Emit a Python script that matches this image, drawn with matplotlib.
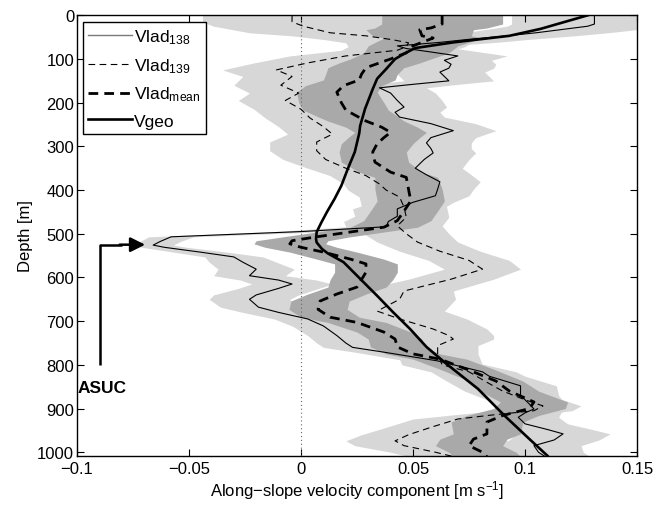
import matplotlib
matplotlib.use("Agg")
import matplotlib.pyplot as plt
from matplotlib.lines import Line2D
import numpy as np

plt.rcParams["font.family"] = ["Liberation Sans", "DejaVu Sans"]
plt.rcParams["mathtext.fontset"] = "custom"
plt.rcParams["mathtext.rm"] = "Liberation Sans"
plt.rcParams["mathtext.it"] = "Liberation Sans:italic"
plt.rcParams["mathtext.bf"] = "Liberation Sans:bold"

# --- LADCP profile at station 138 (depth [m], velocity [m/s], uncertainty) ---
d138 = [0, 20, 25, 40, 47, 55, 62, 70, 76, 84, 93, 103, 112, 121, 130, 140, 150, 158, 166, 178,
        195, 210, 222, 233, 248, 264, 280, 292, 305, 315, 330, 350, 365, 381, 398, 413, 428, 443, 460, 472,
        484, 495, 507, 518, 526, 531, 542, 553, 565, 581, 596, 606, 615, 625, 640, 650, 668, 680, 695, 711,
        733, 750, 760, 771, 791, 816, 826, 848, 870, 890, 901, 910, 920, 935, 948, 958, 972, 985, 1000, 1010]
v138 = [0.131, 0.131, 0.128, 0.105, 0.092, 0.075, 0.062, 0.043, 0.047, 0.058, 0.070, 0.064, 0.067, 0.066, 0.062, 0.064, 0.066, 0.050, 0.035, 0.040,
        0.043, 0.046, 0.042, 0.044, 0.058, 0.068, 0.058, 0.056, 0.058, 0.059, 0.055, 0.051, 0.056, 0.062, 0.061, 0.060, 0.050, 0.043, 0.043, 0.039,
        0.038, 0.000, -0.058, -0.063, -0.066, -0.061, -0.045, -0.030, -0.026, -0.020, -0.023, -0.010, -0.004, -0.010, -0.020, -0.023, -0.019, -0.010, 0.003, 0.010,
        0.016, 0.020, 0.023, 0.037, 0.061, 0.081, 0.084, 0.098, 0.098, 0.102, 0.104, 0.100, 0.097, 0.100, 0.110, 0.117, 0.113, 0.104, 0.106, 0.109]
e138 = [0.037, 0.037, 0.036, 0.032, 0.030, 0.027, 0.025, 0.022, 0.022, 0.022, 0.022, 0.021, 0.020, 0.020, 0.020, 0.020, 0.020, 0.020, 0.021, 0.020,
        0.020, 0.019, 0.020, 0.020, 0.020, 0.019, 0.020, 0.020, 0.018, 0.019, 0.020, 0.021, 0.020, 0.018, 0.016, 0.015, 0.018, 0.020, 0.019, 0.020,
        0.018, 0.012, 0.010, 0.009, 0.009, 0.010, 0.012, 0.013, 0.015, 0.017, 0.016, 0.017, 0.018, 0.018, 0.019, 0.018, 0.017, 0.016, 0.015, 0.014,
        0.013, 0.013, 0.013, 0.013, 0.014, 0.015, 0.016, 0.016, 0.017, 0.016, 0.015, 0.016, 0.018, 0.019, 0.020, 0.021, 0.020, 0.021, 0.020, 0.020]

# --- LADCP profile at station 139 ---
d139 = [0, 15, 25, 40, 47, 56, 63, 72, 80, 93, 109, 125, 140, 160, 178, 195, 215, 235, 255, 272,
        290, 310, 330, 350, 367, 386, 400, 416, 439, 462, 482, 500, 519, 540, 561, 581, 604, 631, 650, 677,
        695, 718, 733, 741, 756, 775, 800, 816, 840, 860, 880, 894, 905, 915, 924, 943, 960, 974, 985, 1000, 1010]
v139 = [-0.004, -0.004, 0.001, 0.013, 0.029, 0.041, 0.048, 0.047, 0.043, 0.020, 0.003, -0.011, -0.004, -0.009, -0.001, -0.007, 0.000, 0.004, 0.010, 0.014,
        0.007, 0.007, 0.011, 0.020, 0.029, 0.035, 0.038, 0.044, 0.046, 0.047, 0.043, 0.047, 0.052, 0.062, 0.075, 0.081, 0.067, 0.046, 0.044, 0.034,
        0.044, 0.059, 0.066, 0.068, 0.061, 0.061, 0.063, 0.075, 0.083, 0.090, 0.100, 0.108, 0.104, 0.085, 0.070, 0.058, 0.048, 0.042, 0.046, 0.060, 0.068]
e139 = [0.040, 0.040, 0.040, 0.036, 0.033, 0.030, 0.028, 0.026, 0.025, 0.025, 0.024, 0.024, 0.022, 0.021, 0.022, 0.021, 0.021, 0.020, 0.020, 0.020,
        0.021, 0.021, 0.019, 0.017, 0.016, 0.016, 0.017, 0.018, 0.019, 0.019, 0.020, 0.019, 0.018, 0.018, 0.018, 0.017, 0.019, 0.022, 0.025, 0.030,
        0.030, 0.024, 0.020, 0.018, 0.018, 0.018, 0.018, 0.017, 0.017, 0.017, 0.017, 0.017, 0.017, 0.018, 0.020, 0.020, 0.021, 0.022, 0.022, 0.020, 0.020]

# --- mean of the two LADCP profiles ---
dmean = [0, 20, 29, 33, 47, 52, 70, 86, 100, 109, 120, 135, 148, 161, 176, 200, 217, 231, 242, 256,
         268, 280, 294, 313, 336, 359, 371, 398, 425, 448, 470, 485, 496, 507, 516, 523, 531, 542, 558, 569,
         588, 605, 622, 638, 654, 673, 691, 703, 725, 741, 759, 775, 787, 810, 837, 860, 885, 900, 916, 931,
         958, 970, 985, 1000, 1010]
vmean = [0.063, 0.063, 0.058, 0.053, 0.054, 0.059, 0.050, 0.047, 0.040, 0.035, 0.029, 0.027, 0.026, 0.019, 0.016, 0.018, 0.020, 0.025, 0.029, 0.036,
         0.040, 0.037, 0.034, 0.032, 0.033, 0.040, 0.047, 0.048, 0.049, 0.046, 0.043, 0.037, 0.022, 0.007, -0.004, -0.005, 0.000, 0.010, 0.022, 0.029,
         0.029, 0.027, 0.025, 0.016, 0.0085, 0.0076, 0.013, 0.025, 0.037, 0.042, 0.043, 0.050, 0.062, 0.074, 0.087, 0.093, 0.104, 0.102, 0.090, 0.083,
         0.083, 0.077, 0.075, 0.081, 0.083]
emean = [0.027, 0.027, 0.025, 0.024, 0.022, 0.022, 0.020, 0.019, 0.018, 0.018, 0.017, 0.016, 0.016, 0.017, 0.018, 0.019, 0.019, 0.018, 0.017, 0.016,
         0.016, 0.016, 0.016, 0.015, 0.015, 0.014, 0.014, 0.015, 0.015, 0.015, 0.015, 0.015, 0.015, 0.015, 0.016, 0.016, 0.016, 0.015, 0.015, 0.014,
         0.014, 0.014, 0.013, 0.013, 0.013, 0.013, 0.013, 0.013, 0.012, 0.012, 0.012, 0.012, 0.012, 0.012, 0.012, 0.013, 0.015, 0.016, 0.016, 0.016,
         0.015, 0.015, 0.015, 0.015, 0.015]

# --- geostrophic velocity ---
dgeo = [0, 31, 47, 62, 75, 88, 100, 123, 145, 169, 214, 253, 270, 313, 350, 390, 420, 450, 475, 496,
        512, 520, 535, 545, 565, 603, 642, 679, 718, 759, 798, 855, 917, 970, 1008]
vgeo = [0.128, 0.107, 0.093, 0.068, 0.051, 0.046, 0.042, 0.038, 0.034, 0.032, 0.0286, 0.0264, 0.026, 0.024, 0.021, 0.018, 0.015, 0.0116, 0.009, 0.007,
        0.0067, 0.007, 0.0094, 0.012, 0.019, 0.0264, 0.034, 0.041, 0.0487, 0.056, 0.065, 0.079, 0.091, 0.102, 0.110]

xticks = [-0.1, -0.05, 0, 0.05, 0.1, 0.15]
xticklabels = ["\u22120.1", "\u22120.05", "0", "0.05", "0.1", "0.15"]
yticks = list(range(0, 1001, 100))

LIGHT = "#d7d7d7"
DARK = "#a9a9a9"

fig = plt.figure(figsize=(6.65, 5.06), dpi=100)
ax = fig.add_axes([0.1158, 0.0974, 0.8421, 0.8704])

for d, v, e, c, z in [(d138, v138, e138, LIGHT, 1), (d139, v139, e139, LIGHT, 1),
                      (dmean, vmean, emean, DARK, 2)]:
    d = np.asarray(d, float)
    v = np.asarray(v, float)
    e = np.asarray(e, float)
    ax.fill_betweenx(d, v - e, v + e, color=c, lw=0, zorder=z)

ax.axvline(0, color="#666666", lw=0.8, ls=(0, (1, 2.5)), zorder=3)

ax.plot(v138, d138, color="black", lw=0.8, zorder=4)
ax.plot(v139, d139, color="black", lw=0.8, ls=(0, (6, 4)), zorder=4)
ax.plot(vmean, dmean, color="black", lw=2.0, ls=(0, (3.5, 2.2)), zorder=5)
ax.plot(vgeo, dgeo, color="black", lw=1.9, zorder=6)

# ASUC marker: vertical stem and arrow pointing at the undercurrent core
ax.plot([-0.0897, -0.0897, -0.080], [800, 525, 525], color="black", lw=1.8, zorder=7,
        solid_capstyle="butt")
ax.annotate("", xy=(-0.0696, 525), xytext=(-0.081, 525),
            arrowprops=dict(arrowstyle="-|>", color="black", lw=1.8,
                            mutation_scale=22, shrinkA=0, shrinkB=0), zorder=7)
ax.text(-0.0997, 852, "ASUC", fontsize=12.5, fontweight="bold", ha="left", va="center", zorder=7)

ax.set_xlim(-0.1, 0.15)
ax.set_ylim(1008, 0)
ax.set_xticks(xticks)
ax.set_xticklabels(xticklabels)
ax.set_yticks(yticks)
ax.tick_params(direction="in", top=True, right=True, length=5, width=0.8, labelsize=12)
ax.tick_params(axis="x", pad=3.5)
ax.tick_params(axis="y", pad=2)
for s in ax.spines.values():
    s.set_linewidth(1.0)

ax.set_xlabel("Along\u2212slope velocity component [m s$^{\\mathrm{-1}}$]", fontsize=12, labelpad=2)
ax.set_ylabel("Depth [m]", fontsize=12, labelpad=3)

handles = [
    Line2D([], [], color="#7a7a7a", lw=1.0),
    Line2D([], [], color="black", lw=0.8, ls=(0, (6, 4))),
    Line2D([], [], color="black", lw=2.0, ls=(0, (3.5, 2.2))),
    Line2D([], [], color="black", lw=1.9),
]
labels = ["Vlad$_{\\mathrm{138}}$", "Vlad$_{\\mathrm{139}}$", "Vlad$_{\\mathrm{mean}}$", "Vgeo"]
leg = ax.legend(handles, labels, loc="upper left", bbox_to_anchor=(0.011, 0.985),
                borderaxespad=0, fontsize=12.5, handlelength=2.5, handletextpad=0.15,
                labelspacing=0.58, borderpad=0.3, fancybox=False, framealpha=1,
                edgecolor="black")
leg.get_frame().set_linewidth(1.0)
leg.set_zorder(10)

fig.savefig("out.png", dpi=100)
